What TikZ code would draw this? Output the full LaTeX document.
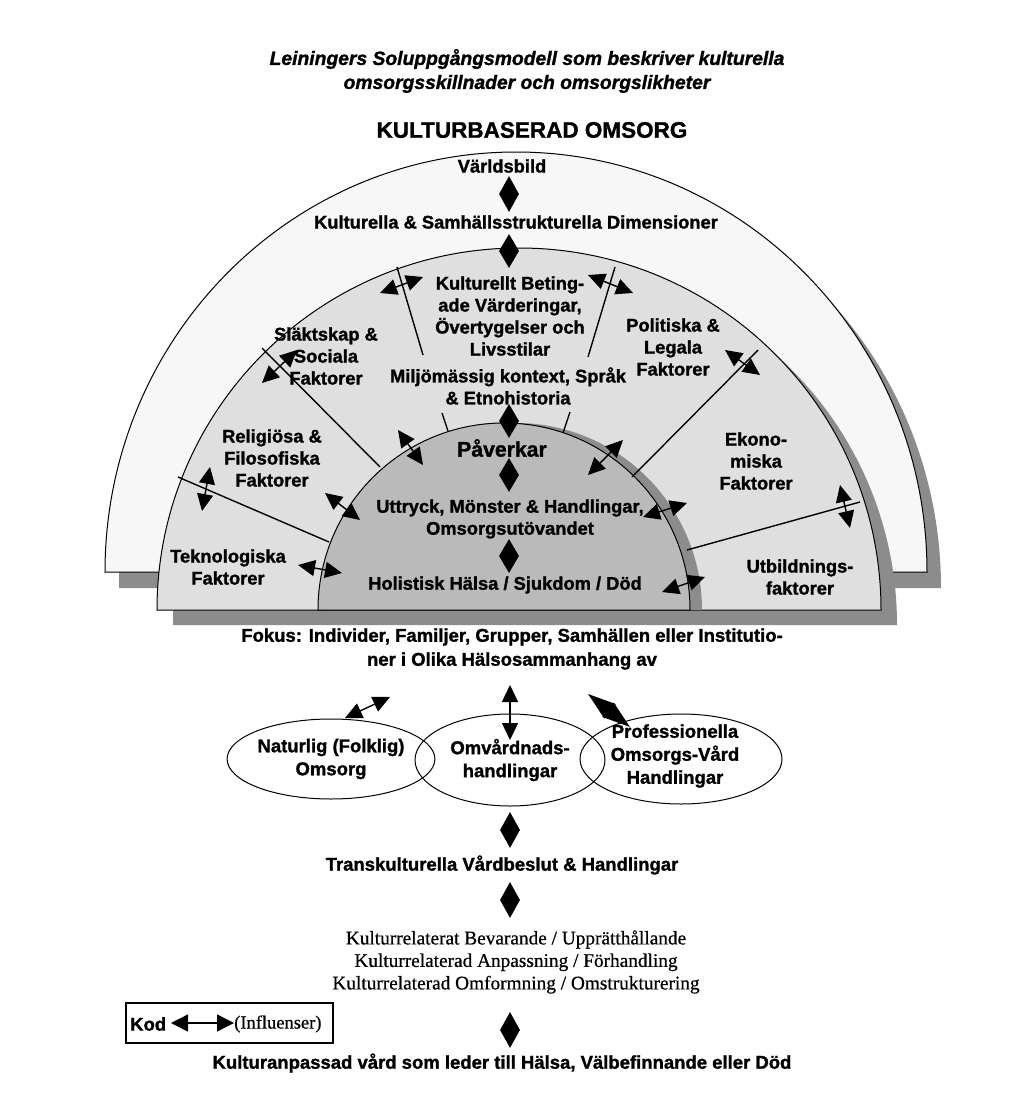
\documentclass[tikz,border=0pt]{standalone}
\usepackage{fontspec}
\setmainfont{Liberation Sans}[BoldFeatures={FakeBold=1.3}, BoldItalicFeatures={FakeBold=1.3}]
\newfontfamily\serif{Liberation Serif}[FakeBold=0.6]
\usetikzlibrary{arrows.meta,shapes.geometric}
\definecolor{outerfill}{gray}{0.97}
\definecolor{midfill}{gray}{0.875}
\definecolor{innerfill}{gray}{0.73}
\definecolor{shadowgray}{gray}{0.55}
\begin{document}
\begin{tikzpicture}[x=1pt,y=-1pt,
  lbl/.style={font=\bfseries\fontsize{18.3}{22}\selectfont, align=center, inner sep=0pt},
  lblc/.style={font=\bfseries\fontsize{18.5}{24}\selectfont, align=center, inner sep=0pt},
  sfl/.style={font=\serif\fontsize{19.3}{22.5}\selectfont, align=center, inner sep=0pt},
  infl/.style={line width=1.4pt, {Triangle[length=17pt,width=16pt]}-{Triangle[length=17pt,width=16pt]}},
  infk/.style={line width=1.4pt, {Triangle[length=28pt,width=18pt]}-{Triangle[length=28pt,width=18pt]}},
  diam/.style={diamond, fill=black, inner sep=0pt, minimum width=20pt, minimum height=36pt},
  divline/.style={line width=1.4pt},
  band/.style={draw=black, line width=1pt},
  ell/.style={ellipse, draw=black, line width=1pt, align=center, inner sep=0pt, font=\bfseries\fontsize{18.5}{23}\selectfont}
]
\useasboundingbox (0,0) rectangle (1024,1097);
\fill[white] (0,0) rectangle (1024,1097);

% outer band
\fill[shadowgray] (119,588) arc[start angle=180,end angle=360,x radius=411,y radius=420] -- cycle;
\filldraw[band, fill=outerfill] (105,572) arc[start angle=180,end angle=360,x radius=411,y radius=420] -- cycle;
% middle band
\fill[shadowgray] (173,625) arc[start angle=180,end angle=360,x radius=362,y radius=362] -- cycle;
\filldraw[band, fill=midfill] (157,610) arc[start angle=180,end angle=360,x radius=362,y radius=362] -- cycle;
% inner
\fill[shadowgray] (330,610) arc[start angle=180,end angle=360,x radius=186,y radius=187] -- cycle;
\filldraw[band, fill=innerfill] (318,610) arc[start angle=180,end angle=360,x radius=186,y radius=187] -- cycle;

% dividing lines
\draw[divline] (178,477) -- (329,542);
\draw[divline] (262,348) -- (380,467);
\draw[divline] (397,267) -- (423,355);
\draw[divline] (442,413) -- (448,431);
\draw[divline] (615,267) -- (588,357);
\draw[divline] (570,412) -- (563,433);
\draw[divline] (758,350) -- (632,477);
\draw[divline] (860,502) -- (687,550);

% text nodes
\node[font=\bfseries\itshape\fontsize{19.3}{24}\selectfont, align=center, inner sep=0pt] (title) at (527,71)
  {Leiningers Soluppgångsmodell som beskriver kulturella\\omsorgsskillnader och omsorgslikheter};
\node[font=\bfseries\fontsize{22.5}{24}\selectfont, inner sep=0pt] (kb) at (532,130) {KULTURBASERAD OMSORG};
\node[lbl] (varld) at (502,166) {Världsbild};
\node[lbl] (kdim) at (516,222) {Kulturella \& Samhällsstrukturella Dimensioner};
\node[lbl] (kbet) at (510,316) {Kulturellt Beting-\\ade Värderingar,\\Övertygelser och\\Livsstilar};
\node[lbl] (milj) at (508,386) {Miljömässig kontext, Språk\\\& Etnohistoria};
\node[lbl] (slakt) at (326,356) {Släktskap \&\\Sociala\\Faktorer};
\node[lbl] (polit) at (673,347) {Politiska \&\\Legala\\Faktorer};
\node[lbl] (relig) at (272,458) {Religiösa \&\\Filosofiska\\Faktorer};
\node[lbl] (ekon) at (756,461) {Ekono-\\miska\\Faktorer};
\node[lbl] (tekn) at (228,567) {Teknologiska\\Faktorer};
\node[lbl] (utb) at (800,577) {Utbildnings-\\faktorer};
\node[font=\bfseries\fontsize{21.2}{24}\selectfont, inner sep=0pt] (pav) at (502,448) {Påverkar};
\node[lbl] (uttr) at (510,519) {Uttryck, Mönster \& Handlingar,\\Omsorgsutövandet};
\node[lbl] (hol) at (505,585) {Holistisk Hälsa / Sjukdom / Död};
\node[lblc] (fokus) at (512,649) {Fokus: Individer, Familjer, Grupper, Samhällen eller Institutio-\\ner i Olika Hälsosammanhang av};
\node[lblc] (trans) at (502,865) {Transkulturella Vårdbeslut \& Handlingar};
\node[sfl] (beslut) at (516,962) {Kulturrelaterat Bevarande / Upprätthållande\\Kulturrelaterad Anpassning / Förhandling\\Kulturrelaterad Omformning / Omstrukturering};
\node[lblc] (result) at (502,1063) {Kulturanpassad vård som leder till Hälsa, Välbefinnande eller Död};

% ellipses
\node[ell, minimum width=172pt, minimum height=80pt] (e1) at (331,759) {Naturlig (Folklig)\\Omsorg};
\node[ell, minimum width=190pt, minimum height=92pt] (e2) at (510,760) {Omvårdnads-\\handlingar};
\node[ell, minimum width=202pt, minimum height=90pt] (e3) at (681,759) {};
\node[font=\bfseries\fontsize{18.5}{23}\selectfont, align=center, inner sep=0pt] (e3t) at (675,756) {Professionella\\Omsorgs-Vård\\Handlingar};

% diamonds
\node[diam] (d1) at (509,194) {};
\node[diam, minimum height=34pt] (d2) at (509,251) {};
\node[diam, minimum height=34pt] (d3) at (509,421) {};
\node[diam, minimum height=34pt] (d4) at (509,475) {};
\node[diam, minimum height=34pt] (d5) at (509,556) {};
\node[diam] (d6) at (510,830) {};
\node[diam] (d7) at (510,900) {};
\node[diam] (d8) at (510,1030) {};

% influence arrows
\coordinate (a1) at (380,293); \coordinate (a2) at (423,277);
\coordinate (b1) at (588,275); \coordinate (b2) at (633,293);
\coordinate (c1) at (262,383); \coordinate (c2) at (297,350);
\coordinate (f1) at (725,350); \coordinate (f2) at (760,375);
\coordinate (g1) at (210,467); \coordinate (g2) at (202,511);
\coordinate (h1) at (840,485); \coordinate (h2) at (850,528);
\coordinate (i1) at (398,430); \coordinate (i2) at (423,465);
\coordinate (j1) at (325,493); \coordinate (j2) at (360,520);
\coordinate (k1) at (298,565); \coordinate (k2) at (342,573);
\coordinate (l1) at (623,440); \coordinate (l2) at (588,475);
\coordinate (m1) at (687,503); \coordinate (m2) at (643,517);
\coordinate (n1) at (705,577); \coordinate (n2) at (662,592);
\coordinate (p1) at (345,718); \coordinate (p2) at (390,697);
\coordinate (q1) at (510,685); \coordinate (q2) at (510,740);
\coordinate (r1) at (588,694); \coordinate (r2) at (630,727);
\foreach \u/\v in {a1/a2,b1/b2,c1/c2,f1/f2,g1/g2,h1/h2,i1/i2,j1/j2,k1/k2,l1/l2,m1/m2,n1/n2,p1/p2,q1/q2}
  \draw[infl] (\u) -- (\v);
\draw[infk] (r1) -- (r2);

% key box
\node[draw=black, line width=1.2pt, minimum width=207pt, minimum height=40pt, inner sep=0pt] (kod) at (229.5,1023) {};
\node[font=\bfseries\fontsize{18.5}{20}\selectfont, inner sep=0pt, anchor=west] (kodt) at (130,1024) {Kod};
\node[font=\serif\fontsize{18.5}{20}\selectfont, inner sep=0pt, anchor=west] (kodi) at (234,1024) {(Influenser)};
\coordinate (k1a) at (171,1023); \coordinate (k2a) at (234,1023);
\draw[line width=1.4pt, {Triangle[length=17pt,width=17pt]}-{Triangle[length=17pt,width=17pt]}] (k1a) -- (k2a);
\end{tikzpicture}
\end{document}
